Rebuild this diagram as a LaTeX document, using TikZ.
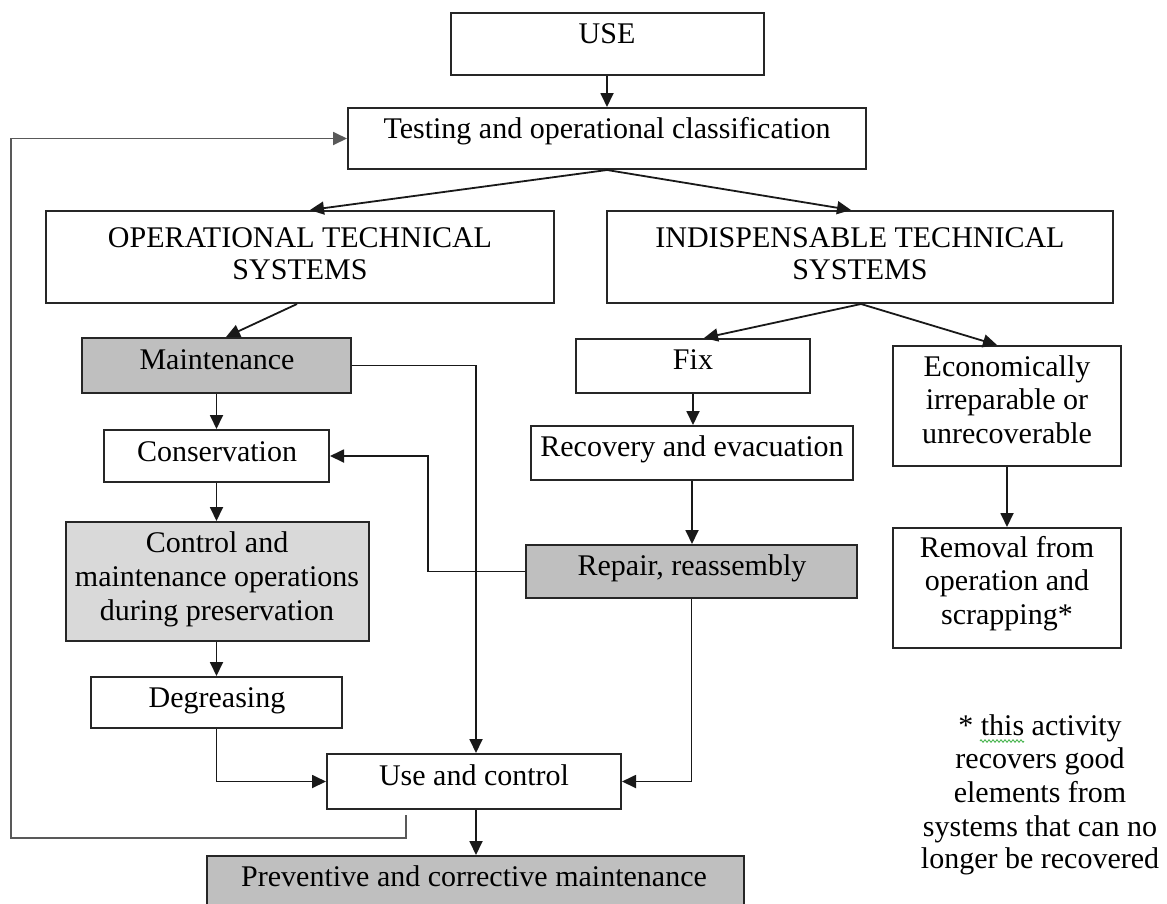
\documentclass[tikz,border=0pt]{standalone}
\usepackage{fontspec}
\setmainfont{Liberation Serif}
\usetikzlibrary{arrows.meta,decorations.pathmorphing}
\definecolor{boxgray}{HTML}{BFBFBF}
\definecolor{lightgray}{HTML}{D9D9D9}
\definecolor{spellgreen}{HTML}{3CB043}
\begin{document}
\begin{tikzpicture}[x=1pt,y=-1pt,
  box/.style={draw=black!85, line width=2pt, rectangle, inner sep=0pt},
  graybox/.style={box, fill=boxgray},
  lightbox/.style={box, fill=lightgray},
  txt/.style={font=\fontsize{30}{34}\selectfont, anchor=base, inner sep=0pt},
  arr/.style={line width=1.8pt, draw=black!90, -{Triangle[length=14pt,width=13pt]}},
  fbline/.style={line width=1.8pt, draw=black!65, -{Triangle[length=14pt,width=13pt]}}]
\clip (0,0) rectangle (1167,903);
\fill[white] (0,0) rectangle (1167,903);

% boxes
\node[box, minimum width=313pt, minimum height=62pt] (use) at (607,44) {};
\node[box, minimum width=518pt, minimum height=61pt] (test) at (607,138.5) {};
\node[box, minimum width=508pt, minimum height=92pt] (ops) at (300,257) {};
\node[box, minimum width=506pt, minimum height=92pt] (ind) at (860,257) {};
\node[graybox, minimum width=269pt, minimum height=55pt] (maint) at (216.5,365.5) {};
\node[box, minimum width=225pt, minimum height=52pt] (cons) at (216.5,456) {};
\node[lightbox, minimum width=303pt, minimum height=119pt] (ctrl) at (217.5,581.5) {};
\node[box, minimum width=251pt, minimum height=51pt] (degr) at (216.5,702.5) {};
\node[box, minimum width=294pt, minimum height=55pt] (usec) at (474,781.5) {};
\node[graybox, minimum width=537pt, minimum height=54pt] (prev) at (475.5,883) {};
\node[box, minimum width=234pt, minimum height=54pt] (fix) at (693,366) {};
\node[box, minimum width=322pt, minimum height=54pt] (recov) at (692,453) {};
\node[graybox, minimum width=331pt, minimum height=53pt] (repair) at (691.5,571.5) {};
\node[box, minimum width=228pt, minimum height=120pt] (econ) at (1007,406) {};
\node[box, minimum width=228pt, minimum height=120pt] (remov) at (1007,588) {};

% texts
\node[txt] (t-use) at (607,43) {USE};
\node[txt] (t-test) at (607,138) {Testing and operational classification};
\node[txt] (t-ops1) at (300,247) {OPERATIONAL TECHNICAL};
\node[txt] (t-ops2) at (300,279) {SYSTEMS};
\node[txt] (t-ind1) at (860,247) {INDISPENSABLE TECHNICAL};
\node[txt] (t-ind2) at (860,279) {SYSTEMS};
\node[txt] (t-maint) at (217,369) {Maintenance};
\node[txt] (t-cons) at (217,461) {Conservation};
\node[txt] (t-ctrl1) at (217,552) {Control and};
\node[txt] (t-ctrl2) at (217,586) {maintenance operations};
\node[txt] (t-ctrl3) at (217,620) {during preservation};
\node[txt] (t-degr) at (217,707) {Degreasing};
\node[txt] (t-usec) at (474,785) {Use and control};
\node[txt] (t-prev) at (474,886) {Preventive and corrective maintenance};
\node[txt] (t-fix) at (693,369) {Fix};
\node[txt] (t-recov) at (692,456) {Recovery and evacuation};
\node[txt] (t-repair) at (692,575) {Repair, reassembly};
\node[txt] (t-econ1) at (1007,376) {Economically};
\node[txt] (t-econ2) at (1007,409) {irreparable or};
\node[txt] (t-econ3) at (1007,443) {unrecoverable};
\node[txt] (t-rem1) at (1007,557) {Removal from};
\node[txt] (t-rem2) at (1007,590) {operation and};
\node[txt] (t-rem3) at (1007,624) {scrapping*};
\node[txt] (n1) at (1040,735) {* this activity};
\node[txt] (n2) at (1040,768) {recovers good};
\node[txt] (n3) at (1040,802) {elements from};
\node[txt] (n4) at (1040,836) {systems that can no};
\node[txt] (n5) at (1040,868) {longer be recovered};
\draw[spellgreen, line width=0.8pt, decoration={zigzag, segment length=4pt, amplitude=1.3pt}, decorate] (980,741) -- (1024,741);

% connectors
\draw[arr] (use.south) -- (use.south |- test.north);
\draw[arr] (test.south) -- ([xshift=10pt]ops.north);
\draw[arr] (test.south) -- ([xshift=-9pt]ind.north);
\draw[arr] ([xshift=-3pt]ops.south) -- ([xshift=9.5pt]maint.north);
\draw[arr] ([xshift=1pt]ind.south) -- ([xshift=11pt]fix.north);
\draw[arr] ([xshift=1pt]ind.south) -- ([xshift=-10pt]econ.north);
\draw[arr] (maint.south) -- (maint.south |- cons.north);
\draw[arr] (cons.south) -- (cons.south |- ctrl.north);
\draw[arr] (ctrl.south -| degr.north) -- (degr.north);
\draw[arr] (maint.east) -| ([xshift=2pt]usec.north);
\draw[arr] (repair.west) -- ++(-97,0) |- (cons.east);
\draw[arr] (degr.south) |- (usec.west);
\draw[arr] (repair.south) |- (usec.east);
\draw[arr] ([xshift=2pt]usec.south) -- ([xshift=2pt]usec.south |- prev.north);
\draw[arr] (fix.south) -- (fix.south |- recov.north);
\draw[arr] (recov.south) -- (recov.south |- repair.north);
\draw[arr] (econ.south) -- (remov.north);
\coordinate (fb) at (406,815);
\draw[fbline] (fb) -- (406,838) -- (11,838) |- (test.west);
\end{tikzpicture}
\end{document}
